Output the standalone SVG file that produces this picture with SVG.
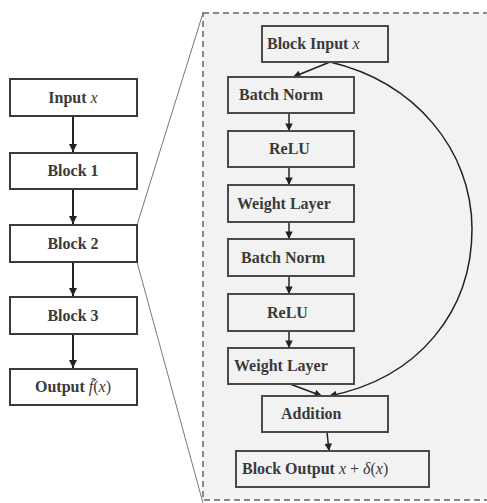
<svg xmlns="http://www.w3.org/2000/svg" width="487" height="503" viewBox="0 0 487 503">
<style>
.box{fill:#ffffff;stroke:#3a3a3a;stroke-width:2}
.ibox{fill:#f2f2f2;stroke:#4a4a4a;stroke-width:2}
.t{font-family:"Liberation Serif","DejaVu Serif",serif;font-size:16px;font-weight:bold;fill:#3a3a3a}
.tc{text-anchor:middle}
.i{font-style:italic;font-weight:normal}
.arr{stroke:#222;stroke-width:2;fill:none;marker-end:url(#ah)}
.arr2{stroke:#222;stroke-width:1.5;fill:none;marker-end:url(#ah2)}
.zoom{stroke:#777;stroke-width:1;fill:none}
</style>
<defs>
<marker id="ah" viewBox="0 0 10 10" refX="10" refY="5" markerWidth="4" markerHeight="4.5" orient="auto" markerUnits="strokeWidth">
<path d="M0,0 L10,5 L0,10 z" fill="#222"/>
</marker>
<marker id="ah2" viewBox="0 0 10 10" refX="10" refY="5" markerWidth="6" markerHeight="5" orient="auto" markerUnits="strokeWidth">
<path d="M0,0 L10,5 L0,10 z" fill="#222"/>
</marker>
</defs>
<rect width="487" height="503" fill="#ffffff"/>
<g id="panel">
<rect x="203" y="13" width="300" height="487" fill="#f2f2f2" stroke="#888" stroke-width="2" stroke-dasharray="6,4"/>
</g>
<g id="zoom-lines">
<line class="zoom" x1="137" y1="225" x2="203" y2="13"/>
<line class="zoom" x1="137" y1="262" x2="203" y2="503"/>
</g>
<g id="connectors">
<line class="arr" x1="73" y1="116" x2="73" y2="152"/>
<line class="arr" x1="73" y1="189" x2="73" y2="224"/>
<line class="arr" x1="73" y1="262" x2="73" y2="296"/>
<line class="arr" x1="73" y1="334" x2="73" y2="368"/>
<line class="arr2" x1="330" y1="62" x2="293" y2="77"/>
<line class="arr2" x1="289" y1="113" x2="289" y2="131"/>
<line class="arr2" x1="289" y1="167" x2="289" y2="185"/>
<line class="arr2" x1="289" y1="222" x2="289" y2="239"/>
<line class="arr2" x1="289" y1="276" x2="289" y2="294"/>
<line class="arr2" x1="289" y1="331" x2="289" y2="348"/>
<line class="arr2" x1="290" y1="384" x2="322" y2="396"/>
<path class="arr2" d="M330,62 C415,82 472,150 472,229 C472,310 420,378 329,396"/>
<line class="arr2" x1="327" y1="432" x2="329" y2="451"/>
</g>
<g id="input">
<rect class="box" x="10" y="79" width="127" height="37"/>
<text class="t tc" x="73" y="103">Input <tspan class="i">x</tspan></text>
</g>
<g id="block1">
<rect class="box" x="10" y="153" width="127" height="36"/>
<text class="t tc" x="73" y="176">Block 1</text>
</g>
<g id="block2">
<rect class="box" x="10" y="225" width="127" height="37"/>
<text class="t tc" x="73" y="249">Block 2</text>
</g>
<g id="block3">
<rect class="box" x="10" y="297" width="127" height="37"/>
<text class="t tc" x="73" y="321">Block 3</text>
</g>
<g id="output">
<rect class="box" x="10" y="369" width="127" height="36"/>
<text class="t tc" x="73" y="392">Output <tspan class="i">f̃</tspan><tspan font-weight="normal">(</tspan><tspan class="i">x</tspan><tspan font-weight="normal">)</tspan></text>
</g>
<g id="block-input">
<rect class="ibox" x="262" y="26" width="126" height="36"/>
<text class="t" x="267" y="49">Block Input <tspan class="i">x</tspan></text>
</g>
<g id="bn1">
<rect class="ibox" x="228" y="77" width="126" height="36"/>
<text class="t" x="239" y="100">Batch Norm</text>
</g>
<g id="relu1">
<rect class="ibox" x="228" y="131" width="126" height="36"/>
<text class="t" x="269" y="154">ReLU</text>
</g>
<g id="wl1">
<rect class="ibox" x="228" y="185" width="126" height="37"/>
<text class="t" x="237" y="209">Weight Layer</text>
</g>
<g id="bn2">
<rect class="ibox" x="228" y="239" width="126" height="37"/>
<text class="t" x="241" y="263">Batch Norm</text>
</g>
<g id="relu2">
<rect class="ibox" x="228" y="294" width="126" height="37"/>
<text class="t" x="267" y="318">ReLU</text>
</g>
<g id="wl2">
<rect class="ibox" x="228" y="348" width="126" height="36"/>
<text class="t" x="234" y="371">Weight Layer</text>
</g>
<g id="addition">
<rect class="ibox" x="262" y="396" width="126" height="36"/>
<text class="t" x="281" y="419">Addition</text>
</g>
<g id="block-output">
<rect class="ibox" x="236" y="451" width="193" height="36"/>
<text class="t" x="242" y="474">Block Output <tspan class="i">x</tspan><tspan font-weight="normal"> + </tspan><tspan class="i">δ</tspan><tspan font-weight="normal">(</tspan><tspan class="i">x</tspan><tspan font-weight="normal">)</tspan></text>
</g>
</svg>
